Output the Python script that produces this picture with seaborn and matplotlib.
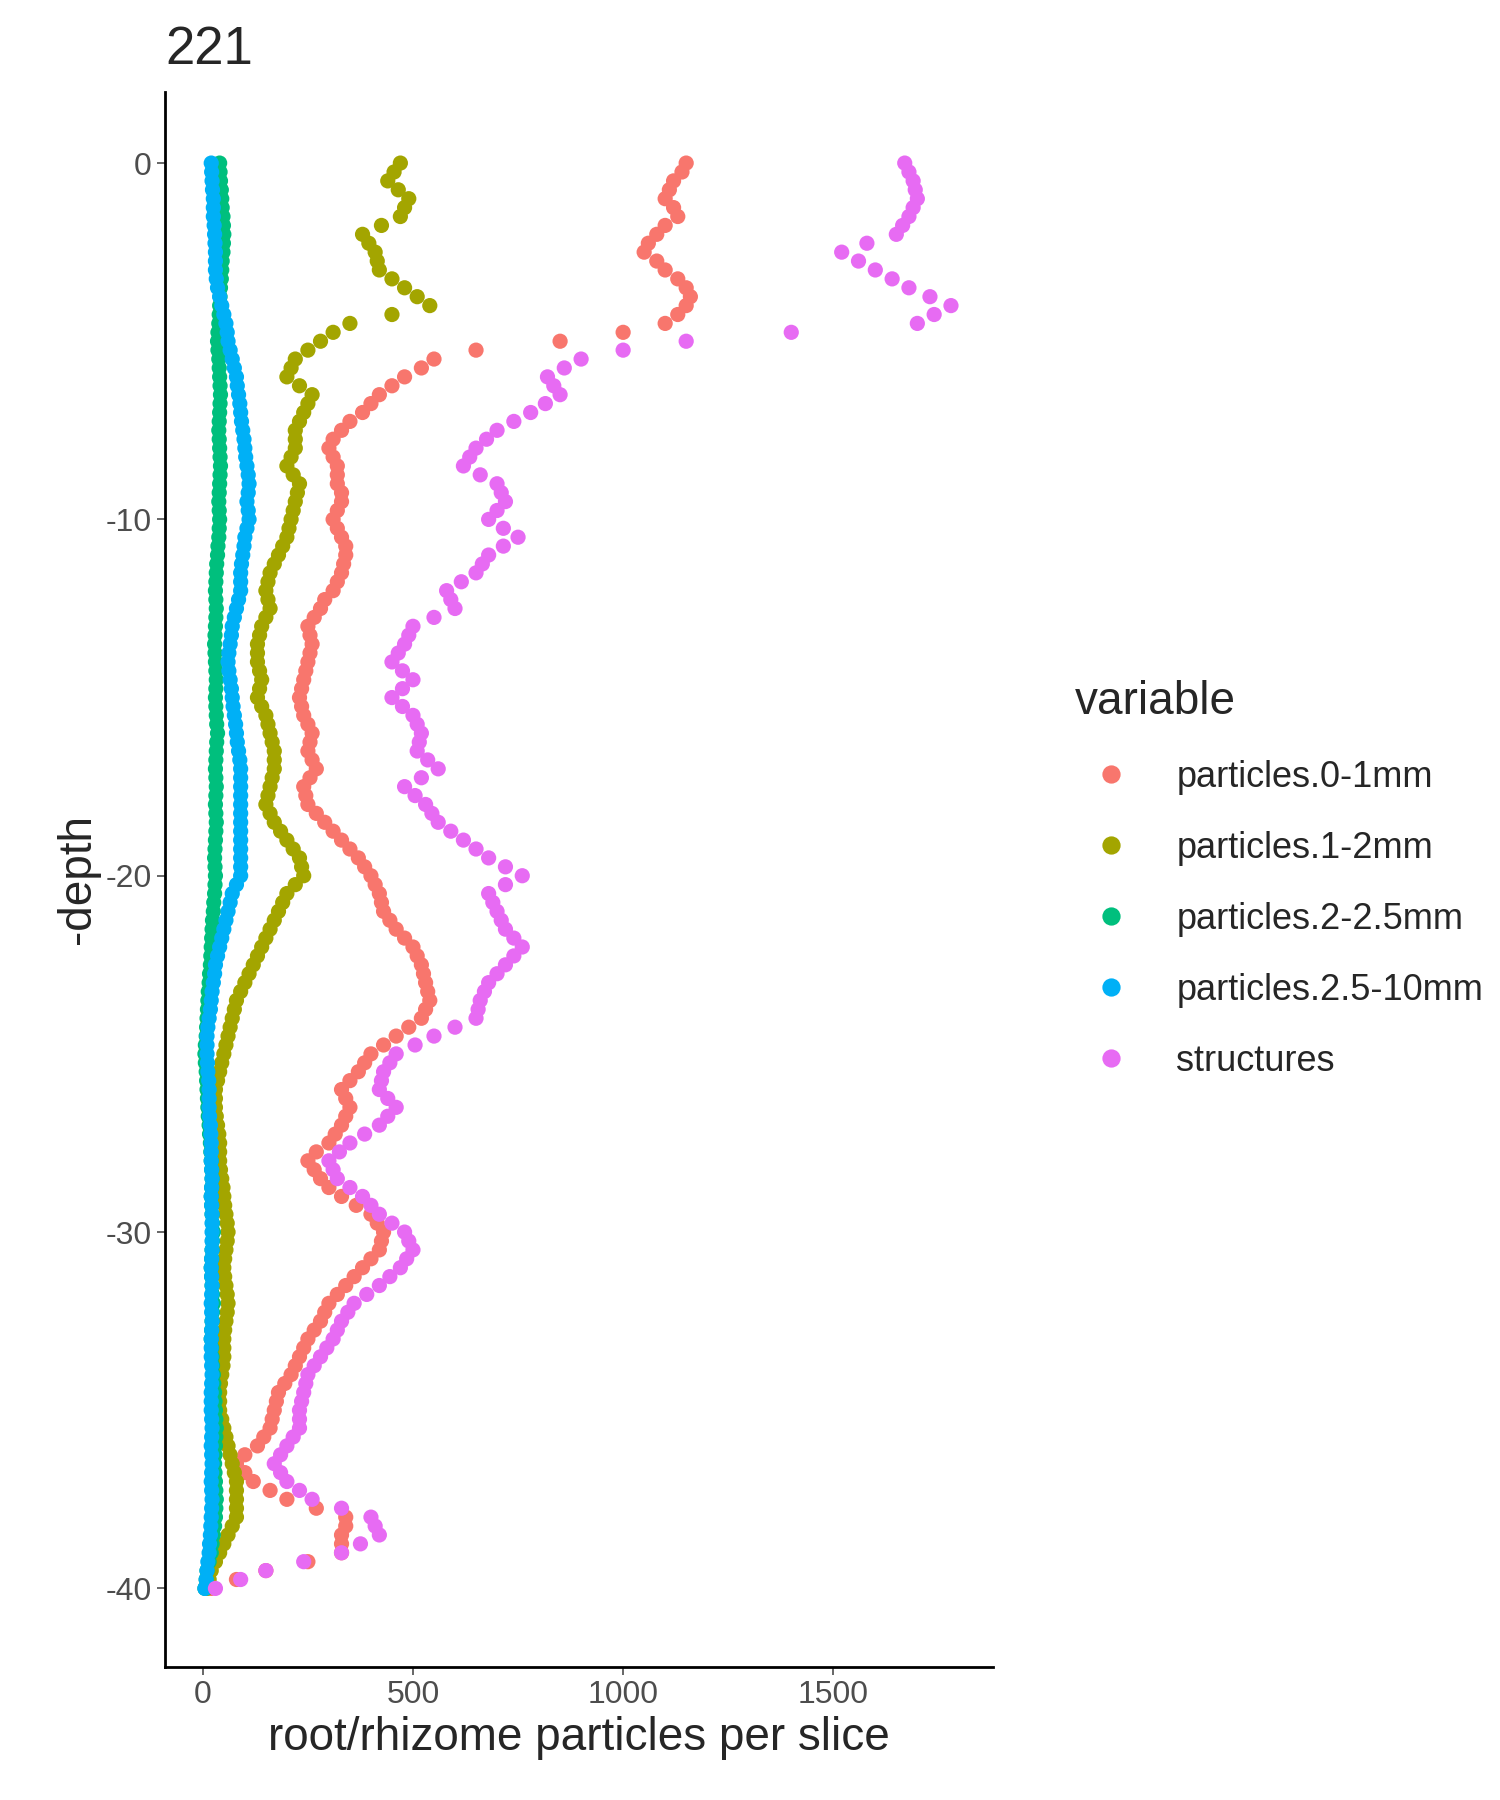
import numpy as np
import pandas as pd
import matplotlib
matplotlib.use("Agg")
import matplotlib.pyplot as plt
import seaborn as sns

depth = [i * 0.5 for i in range(81)]          # 0 .. 40
depth_mid = [i * 0.5 + 0.25 for i in range(80)]  # 0.25 .. 39.75

p0_1 = [1150,1120,1100,1130,1080,1050,1100,1150,1150,1100,850,550,480,420,380,330,300,320,320,330,
        310,330,340,330,310,280,250,260,250,240,230,240,260,250,270,240,250,290,330,370,
        400,420,430,460,500,520,530,540,520,460,400,370,330,350,330,300,250,280,330,400,
        430,420,380,340,300,280,250,230,210,180,170,160,130,80,120,200,340,330,330,150,20]
p0_1_mid = [1140,1110,1120,1100,1060,1080,1130,1160,1130,1000,650,520,450,400,350,310,310,320,330,320,
            320,340,335,320,290,265,255,255,245,235,235,250,255,260,255,245,270,310,350,385,
            410,425,445,480,510,525,535,530,490,430,385,350,340,340,315,270,265,300,365,415,
            425,400,360,320,290,265,240,220,195,175,165,145,100,100,160,270,340,330,250,80]
p1_2 = [470,440,490,470,380,410,420,480,540,350,280,220,200,260,240,220,220,200,230,220,
        210,200,180,160,150,160,140,130,130,140,130,150,160,170,170,160,150,170,200,230,
        240,200,180,160,140,120,100,80,70,60,50,40,30,30,35,40,40,45,50,55,
        60,55,50,55,60,55,50,50,45,40,40,50,60,70,80,80,80,60,40,20,10]
p1_2_mid = [455,465,480,425,395,415,450,510,450,310,250,210,230,250,230,220,210,215,225,215,
            205,190,170,155,155,150,135,130,135,135,140,155,165,170,165,155,160,185,215,235,
            220,190,170,150,130,110,90,75,65,55,45,35,30,32,38,40,42,48,52,58,
            58,52,52,58,58,52,50,48,42,40,45,55,65,75,80,80,70,50,30,15]
p2_25 = [40,42,45,48,50,48,45,42,40,38,35,38,40,42,40,38,40,42,40,38,
         40,38,35,32,30,32,30,28,30,32,30,32,35,32,30,32,30,32,30,28,
         30,28,25,22,20,18,15,12,10,8,5,8,10,12,15,18,20,22,20,22,
         25,22,20,22,25,22,20,22,25,28,30,32,30,28,30,32,30,25,20,10,5]
p2_25_mid = [41,44,46,49,49,46,44,41,39,36,36,39,41,41,39,39,41,41,39,39,
             39,36,33,31,31,31,29,29,31,31,31,33,33,31,31,31,31,31,29,29,
             29,26,23,21,19,16,13,11,9,6,6,9,11,13,16,19,21,21,21,23,
             23,21,21,23,23,21,21,23,26,29,31,31,29,29,31,31,28,22,15,8]
p25_10 = [20,22,25,25,28,30,30,35,45,55,60,70,80,85,90,95,100,105,110,105,
          110,100,95,90,90,80,70,65,60,65,70,75,80,85,90,90,90,90,90,90,
          90,70,60,50,40,30,25,20,15,10,10,12,15,15,18,20,20,22,20,22,
          22,22,20,22,20,22,20,20,22,20,20,22,20,22,20,22,20,18,15,10,5]
p25_10_mid = [21,23,25,27,29,30,32,40,50,58,65,75,82,88,92,98,102,108,108,108,
              105,98,92,90,85,75,68,62,62,68,72,78,82,88,90,90,90,90,90,90,
              80,65,55,45,35,28,22,18,12,10,11,14,15,16,19,20,21,21,21,22,
              22,21,21,21,21,21,20,21,21,20,21,21,21,21,21,21,19,16,12,8]
structures = [1670,1690,1700,1680,1650,1520,1600,1680,1780,1700,1150,900,820,850,780,700,650,620,700,720,
              680,750,680,650,580,600,500,480,450,500,450,500,520,510,560,480,530,560,620,680,
              760,680,700,720,760,720,680,660,650,550,460,430,420,460,420,350,300,320,380,420,
              480,500,470,420,360,330,310,280,250,240,230,230,200,170,200,260,400,420,330,150,30]
structures_mid = [1680,1695,1690,1665,1580,1560,1640,1730,1740,1400,1000,860,835,815,740,675,635,660,710,700,
                  715,715,665,615,590,550,490,465,475,475,475,510,515,535,520,505,545,590,650,720,
                  720,690,710,740,740,700,670,655,600,505,445,425,440,440,385,325,310,350,400,450,
                  490,485,445,390,345,320,295,265,245,235,230,215,185,185,230,330,410,375,240,90]

names = ["particles.0-1mm", "particles.1-2mm", "particles.2-2.5mm", "particles.2.5-10mm", "structures"]
series = [(p0_1, p0_1_mid), (p1_2, p1_2_mid), (p2_25, p2_25_mid), (p25_10, p25_10_mid),
          (structures, structures_mid)]
colors = ["#F8766D", "#A3A500", "#00BF7D", "#00B0F6", "#E76BF3"]

rows = []
for n, (s, sm) in zip(names, series):
    for d, v in zip(depth, s):
        rows.append({"depth": -d, "value": v, "variable": n})
    for d, v in zip(depth_mid, sm):
        rows.append({"depth": -d, "value": v, "variable": n})
df = pd.DataFrame(rows)

sns.set_style("white")
plt.rcParams['font.family'] = ['Liberation Sans', 'DejaVu Sans']
plt.rcParams['axes.unicode_minus'] = False
fig = plt.figure(figsize=(15, 18), dpi=100)
ax = fig.add_axes([0.11, 0.074, 0.552, 0.875])
sns.scatterplot(data=df, x="value", y="depth", hue="variable", hue_order=names,
                palette=colors, s=120, edgecolor="none", ax=ax, legend=True)
ax.set_xlim(-90, 1880)
ax.set_ylim(-42.2, 2.0)
ax.set_xticks([0, 500, 1000, 1500])
ax.set_yticks([0, -10, -20, -30, -40])
ax.tick_params(labelsize=23, colors="#4D4D4D", length=6, width=1.2, left=True, bottom=True)
for t in ax.get_xticklabels() + ax.get_yticklabels():
    t.set_color("#4D4D4D")
for sp in ["top", "right"]:
    ax.spines[sp].set_visible(False)
for sp in ["left", "bottom"]:
    ax.spines[sp].set_linewidth(2)
    ax.spines[sp].set_color("black")
ax.set_xlabel("root/rhizome particles per slice", fontsize=33)
ax.set_ylabel("-depth", fontsize=33)
ax.set_title("221", fontsize=38, loc="left", pad=20)
leg = ax.legend(title="variable", loc="center left", bbox_to_anchor=(1.06, 0.5),
                frameon=False, fontsize=26, title_fontsize=33, markerscale=1.2,
                labelspacing=1.0, handletextpad=0.8)
leg._legend_box.align = "left"
fig.savefig("out.png", dpi=100)
